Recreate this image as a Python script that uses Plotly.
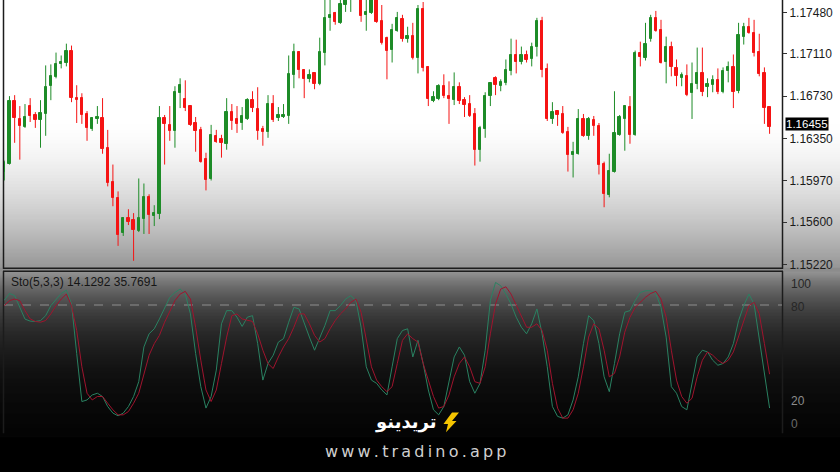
import math
import plotly.graph_objects as go

W, H = 840, 472

# ---------------- data ----------------
opens = [
    1.16053, 1.16125, 1.16685, 1.16525, 1.16454, 1.16641, 1.16561, 1.16516, 1.16570, 1.16819,
    1.16899, 1.17015, 1.17032, 1.17139, 1.16712, 1.16712, 1.16570, 1.16436, 1.16525, 1.16534,
    1.16267, 1.15955, 1.15813, 1.15502, 1.15635, 1.15617, 1.15519, 1.15626, 1.15822, 1.15653,
    1.15671, 1.16534, 1.16472, 1.16418, 1.16756, 1.16703, 1.16641, 1.16489, 1.16427, 1.16169,
    1.15982, 1.16374, 1.16347, 1.16303, 1.16587, 1.16525, 1.16489, 1.16525, 1.16694, 1.16614,
    1.16436, 1.16409, 1.16659, 1.16534, 1.16543, 1.16552, 1.16917, 1.17130, 1.16961, 1.16881,
    1.16934, 1.16837, 1.17121, 1.17433, 1.17477, 1.17388, 1.17548, 1.17625, 1.17680, 1.17690,
    1.17460, 1.17477, 1.17620, 1.17406, 1.17255, 1.17148, 1.17317, 1.17424, 1.17246, 1.17273,
    1.17068, 1.17513, 1.16988, 1.16685, 1.16703, 1.16819, 1.16730, 1.16694, 1.16810, 1.16694,
    1.16659, 1.16570, 1.16249, 1.16436, 1.16730, 1.16890, 1.16819, 1.16845, 1.16952, 1.17095,
    1.17041, 1.17095, 1.17059, 1.17175, 1.17406, 1.16970, 1.16525, 1.16596, 1.16570, 1.16409,
    1.16205, 1.16213, 1.16525, 1.16374, 1.16516, 1.16463, 1.16125, 1.15840, 1.16053, 1.16383,
    1.16525, 1.16632, 1.16383, 1.17121, 1.17068, 1.17246, 1.17433, 1.17326, 1.17041, 1.17175,
    1.16979, 1.16890, 1.16908, 1.16756, 1.16837, 1.16934, 1.16810, 1.16828, 1.16872, 1.16765,
    1.16952, 1.16988, 1.16774, 1.17264, 1.17353, 1.17299, 1.17130, 1.16934, 1.16632,
]
highs = [
    1.16151, 1.16730, 1.16739, 1.16641, 1.16659, 1.16712, 1.16587, 1.16694, 1.17006, 1.17015,
    1.17121, 1.17095, 1.17201, 1.17184, 1.16828, 1.16756, 1.16596, 1.16540, 1.16641, 1.16712,
    1.16427, 1.16116, 1.15875, 1.15644, 1.15715, 1.15680, 1.15991, 1.15946, 1.15849, 1.15751,
    1.16641, 1.16561, 1.16641, 1.16819, 1.16890, 1.16872, 1.16650, 1.16543, 1.16454, 1.16222,
    1.16472, 1.16427, 1.16383, 1.16712, 1.16659, 1.16641, 1.16632, 1.16712, 1.16774, 1.16810,
    1.16463, 1.16739, 1.16739, 1.16632, 1.16659, 1.17095, 1.17201, 1.17135, 1.16970, 1.16970,
    1.16943, 1.17255, 1.17605, 1.17600, 1.17486, 1.17610, 1.17650, 1.17720, 1.17760, 1.17720,
    1.17600, 1.17640, 1.17650, 1.17548, 1.17264, 1.17379, 1.17486, 1.17460, 1.17353, 1.17388,
    1.17548, 1.17575, 1.16997, 1.16774, 1.16837, 1.16926, 1.16863, 1.16943, 1.16854, 1.16721,
    1.16739, 1.16623, 1.16463, 1.16765, 1.16854, 1.16908, 1.16881, 1.17059, 1.17246, 1.17237,
    1.17175, 1.17139, 1.17210, 1.17433, 1.17442, 1.17023, 1.16676, 1.16605, 1.16641, 1.16454,
    1.16320, 1.16614, 1.16570, 1.16543, 1.16552, 1.16489, 1.16142, 1.16213, 1.16774, 1.16561,
    1.16650, 1.16730, 1.17139, 1.17219, 1.17388, 1.17460, 1.17495, 1.17415, 1.17264, 1.17219,
    1.17059, 1.16943, 1.17015, 1.17032, 1.17166, 1.17166, 1.16890, 1.16917, 1.16979, 1.16988,
    1.17041, 1.17104, 1.17388, 1.17388, 1.17433, 1.17415, 1.17290, 1.16988, 1.16641,
]
lows = [
    1.15973, 1.16116, 1.16311, 1.16160, 1.16445, 1.16498, 1.16445, 1.16267, 1.16374, 1.16694,
    1.16890, 1.16979, 1.16997, 1.16676, 1.16489, 1.16481, 1.16329, 1.16418, 1.16481, 1.16213,
    1.15920, 1.15742, 1.15386, 1.15475, 1.15573, 1.15252, 1.15510, 1.15493, 1.15493, 1.15564,
    1.15626, 1.16116, 1.16329, 1.16267, 1.16623, 1.16596, 1.16463, 1.16231, 1.16133, 1.15884,
    1.15973, 1.16311, 1.16178, 1.16249, 1.16427, 1.16400, 1.16427, 1.16516, 1.16587, 1.16338,
    1.16285, 1.16356, 1.16498, 1.16507, 1.16534, 1.16481, 1.16801, 1.16890, 1.16712, 1.16854,
    1.16792, 1.16828, 1.17006, 1.17317, 1.17371, 1.17379, 1.17486, 1.17486, 1.17640, 1.17397,
    1.17317, 1.17468, 1.17388, 1.17193, 1.16881, 1.17032, 1.17308, 1.17219, 1.17210, 1.17059,
    1.16934, 1.16952, 1.16641, 1.16676, 1.16694, 1.16712, 1.16481, 1.16650, 1.16659, 1.16543,
    1.16543, 1.16107, 1.16142, 1.16356, 1.16641, 1.16739, 1.16774, 1.16828, 1.16917, 1.16934,
    1.17015, 1.17032, 1.16997, 1.17086, 1.16899, 1.16507, 1.16481, 1.16463, 1.16392, 1.16053,
    1.16000, 1.16205, 1.16365, 1.16338, 1.16374, 1.16027, 1.15733, 1.15822, 1.16044, 1.16374,
    1.16240, 1.16303, 1.16374, 1.16997, 1.17050, 1.17219, 1.17308, 1.17023, 1.16845, 1.16908,
    1.16819, 1.16819, 1.16730, 1.16525, 1.16792, 1.16730, 1.16721, 1.16765, 1.16748, 1.16756,
    1.16854, 1.16623, 1.16756, 1.17193, 1.17290, 1.17086, 1.16908, 1.16481, 1.16392,
]
closes = [
    1.16133, 1.16685, 1.16534, 1.16463, 1.16543, 1.16552, 1.16516, 1.16578, 1.16810, 1.16908,
    1.17015, 1.17041, 1.17139, 1.16712, 1.16694, 1.16561, 1.16445, 1.16534, 1.16543, 1.16258,
    1.15946, 1.15813, 1.15484, 1.15635, 1.15599, 1.15528, 1.15635, 1.15822, 1.15662, 1.15680,
    1.16534, 1.16481, 1.16418, 1.16765, 1.16828, 1.16623, 1.16472, 1.16418, 1.16142, 1.15973,
    1.16383, 1.16320, 1.16311, 1.16587, 1.16507, 1.16481, 1.16552, 1.16694, 1.16623, 1.16418,
    1.16409, 1.16659, 1.16516, 1.16561, 1.16561, 1.16926, 1.17130, 1.16961, 1.16881, 1.16917,
    1.16837, 1.17130, 1.17433, 1.17460, 1.17397, 1.17557, 1.17620, 1.17680, 1.17700, 1.17451,
    1.17486, 1.17610, 1.17397, 1.17210, 1.17139, 1.17326, 1.17433, 1.17246, 1.17273, 1.17068,
    1.17513, 1.16979, 1.16703, 1.16721, 1.16819, 1.16730, 1.16703, 1.16810, 1.16685, 1.16650,
    1.16552, 1.16249, 1.16445, 1.16730, 1.16845, 1.16828, 1.16854, 1.16961, 1.17095, 1.17041,
    1.17095, 1.17050, 1.17175, 1.17406, 1.16961, 1.16525, 1.16587, 1.16561, 1.16400, 1.16205,
    1.16231, 1.16525, 1.16374, 1.16525, 1.16463, 1.16116, 1.15849, 1.16062, 1.16400, 1.16543,
    1.16641, 1.16383, 1.17121, 1.17077, 1.17201, 1.17433, 1.17317, 1.17032, 1.17175, 1.16988,
    1.16908, 1.16917, 1.16739, 1.16837, 1.16934, 1.16765, 1.16837, 1.16872, 1.16765, 1.16952,
    1.16988, 1.16765, 1.17282, 1.17353, 1.17299, 1.17121, 1.16926, 1.16623, 1.16455,
]
sto_k = [
    83, 87.4, 86, 78.5, 71, 69.7, 69.5, 70, 73.2, 79.6,
    83.8, 87.4, 89.5, 80.6, 49, 18.3, 19.3, 22.5, 23.6, 21.5,
    15.1, 10.9, 9.2, 10.9, 15.1, 21.5, 31, 53.2, 61.6, 64.8,
    71.1, 78.5, 84.9, 88, 90.2, 87, 74.3, 49, 27.8, 14.1,
    21.5, 38.4, 68, 76.4, 76.4, 72.2, 66.3, 72.2, 73.2, 55.3,
    32, 42.6, 47.9, 56.3, 58.5, 69, 78.5, 77.5, 68, 59.5,
    51.1, 58.5, 66.9, 76.4, 76.4, 79.6, 83.8, 86, 82.8, 65.8,
    40.5, 32, 29.9, 25.7, 22.5, 40.5, 58.5, 63.7, 64.8, 46.8,
    57.4, 42.6, 25.7, 13, 9.8, 15.1, 32, 46.8, 53.2, 47.9,
    31, 23.6, 29.9, 51.1, 82.8, 94.4, 92.3, 87, 80.6, 72.2,
    65.8, 61.6, 68, 77.5, 61.6, 40.5, 15.1, 8.8, 7.7, 9.8,
    19.3, 34.1, 55.3, 73.2, 70, 55.3, 34.1, 24.6, 42.6, 61.6,
    75.4, 76.4, 82.8, 88, 89.1, 89.1, 87.4, 78.5, 59.5, 27.8,
    23.6, 15.1, 13, 29.9, 46.8, 51.1, 50, 44.7, 41.5, 42.6,
    46.8, 55.3, 70, 79.6, 87, 80.6, 57.4, 34.1, 14.13,
]
sto_d = [
    79.6, 82.8, 83.8, 82.8, 76.4, 71.1, 69.5, 69, 70.1, 74.3,
    79.6, 83.8, 87, 79.6, 63.7, 40.5, 23.6, 19.3, 21.5, 21.5,
    17.2, 13, 9.8, 9.8, 11.9, 17.2, 23.6, 36.3, 47.9, 55.3,
    60.6, 69, 76.4, 82.8, 87, 88.7, 83.8, 65.8, 44.7, 25.7,
    18.3, 25.7, 42.6, 59.5, 73.2, 74.3, 71.1, 70.1, 69.5, 61.6,
    51.1, 42.6, 39.4, 46.8, 53.2, 58.5, 65.8, 74.3, 74.3, 68,
    60.6, 56.3, 58.5, 64.8, 70.1, 74.3, 77.5, 81.7, 83.8, 75.4,
    57.4, 40.5, 32, 27.8, 24.6, 27.8, 42.6, 57.4, 61.6, 58.5,
    56.3, 42.6, 32, 21.5, 14.1, 15.1, 22.5, 34.1, 42.6, 46.8,
    40.5, 31, 29.9, 40.5, 61.6, 80.6, 90.2, 91.6, 87, 79.6,
    72.2, 65.8, 65.8, 68, 63.7, 51.1, 29.9, 14.1, 7.7, 7.7,
    13, 23.6, 40.5, 59.5, 68, 64.8, 51.1, 34.1, 36.3, 46.8,
    62.7, 72.2, 78.5, 81.7, 84.9, 87.4, 88.7, 83.8, 72.2, 51.1,
    32, 21.5, 17.2, 20.4, 34.1, 44.7, 50, 47.9, 44.7, 42.6,
    44.7, 50, 59.5, 70.1, 79.6, 81.7, 74.3, 55.3, 35.77,
]
price_ticks = [1.17480, 1.17110, 1.16730, 1.16350, 1.15970, 1.15600, 1.15220]
last_price = 1.16455
sto_title = "Sto(5,3,3) 14.1292 35.7691"
sto_levels = [80, 20]
sto_scale_labels = ["100", "80", "20", "0"]
brand_fa = "تریدینو"
brand_url = "www.tradino.app"

# ---------------- helpers ----------------
def px(x):
    return x / W

def py(y):
    return 1 - y / H

GREEN = "#1e8c28"
RED = "#f51414"
FONT = "Liberation Sans"

n = len(opens)
idx = list(range(1, n + 1))

fig = go.Figure()

# wicks
for bull, col in ((True, GREEN), (False, RED)):
    wx, wy = [], []
    for i in range(n):
        if (closes[i] >= opens[i]) == bull:
            wx += [idx[i], idx[i], None]
            wy += [lows[i], highs[i], None]
    fig.add_trace(go.Scatter(x=wx, y=wy, mode="lines", line=dict(color=col, width=1),
                             hoverinfo="skip", xaxis="x", yaxis="y"))

# bodies
for bull, col in ((True, GREEN), (False, RED)):
    bx, bh, bb = [], [], []
    for i in range(n):
        if (closes[i] >= opens[i]) == bull:
            bx.append(idx[i])
            bh.append(abs(closes[i] - opens[i]))
            bb.append(min(opens[i], closes[i]))
    fig.add_trace(go.Bar(x=bx, y=bh, base=bb, width=0.45,
                         marker=dict(color=col, line=dict(color=col, width=1)),
                         xaxis="x", yaxis="y"))

# stochastic
fig.add_trace(go.Scatter(x=idx[:len(sto_k)], y=sto_k, mode="lines",
                         line=dict(color="#2a8262", width=1), xaxis="x2", yaxis="y2"))
fig.add_trace(go.Scatter(x=idx[:len(sto_d)], y=sto_d, mode="lines",
                         line=dict(color="#a0142e", width=1), xaxis="x2", yaxis="y2"))

# ---------------- background gradient ----------------
shapes = []

def band(y0, y1, g):
    c = f"rgb({g},{g},{g})"
    shapes.append(dict(type="rect", xref="paper", yref="paper", x0=0, x1=1,
                       y0=py(y1), y1=py(y0), fillcolor=c,
                       line=dict(width=0), layer="below"))

band(0, 121, 255)
for y in range(120, 270):
    t = (y + 0.5 - 120) / 150
    g = int(round(255 - 105 * t ** 1.6))
    band(y, y + 2, g)
band(270, 275, 140)
for y in range(274, 440):
    g = int(round(148 * math.exp(-(y + 0.5 - 274) / 48)))
    band(y, y + 2, g)

# borders
def vline(x, y0, y1, col="#1c1c1c", w=1.5):
    shapes.append(dict(type="line", xref="paper", yref="paper", x0=px(x), x1=px(x),
                       y0=py(y0), y1=py(y1), line=dict(color=col, width=w), layer="below"))

def hline(y, x0, x1, col="#1c1c1c", w=1.5):
    shapes.append(dict(type="line", xref="paper", yref="paper", x0=px(x0), x1=px(x1),
                       y0=py(y), y1=py(y), line=dict(color=col, width=w), layer="below"))

vline(3.5, 0, 271)
vline(782.5, 0, 271)
hline(270.5, 3, 783)
hline(273.5, 3, 783)
vline(3.5, 273.5, 437)
vline(782.5, 273.5, 437)

# stochastic levels
for lv, col in zip(sto_levels, ("#8e8e8e", "#0c0c0c")):
    shapes.append(dict(type="line", xref="paper", yref="y2", x0=px(4), x1=px(782),
                       y0=lv, y1=lv, line=dict(color=col, width=1, dash="dash"), layer="below"))

# logo bolt
pts = [(452, 416), (459, 416), (452, 424.5), (456.5, 424.5), (446, 436), (448, 427.5), (443.5, 427.5)]
path = "M " + " L ".join(f"{px(a):.5f},{py(b):.5f}" for a, b in pts) + " Z"
shapes.append(dict(type="path", xref="paper", yref="paper", path=path,
                   fillcolor="#f5c400", line=dict(width=0), layer="above"))

# ---------------- annotations ----------------
ann = []
ann.append(dict(xref="paper", yref="y", x=px(785), y=last_price, xanchor="left", yanchor="middle",
                yshift=3, text=f"{last_price:.5f}", showarrow=False, bgcolor="#000000", borderpad=0,
                font=dict(family=FONT, size=11.5, color="#ffffff")))
ann.append(dict(xref="paper", yref="paper", x=px(9), y=py(284), xanchor="left", yanchor="middle",
                text=sto_title, showarrow=False, font=dict(family=FONT, size=12, color="#151515")))
for lab, ypix, col in zip(sto_scale_labels, (286, 310, 404, 428), ("#262626", "#262626", "#8c8c8c", "#6a6a6a")):
    ann.append(dict(xref="paper", yref="paper", x=px(789), y=py(ypix), xanchor="left", yanchor="middle",
                    text=lab, showarrow=False, font=dict(family=FONT, size=12, color=col)))
ann.append(dict(xref="paper", yref="paper", x=px(406), y=py(426), xanchor="center", yanchor="middle",
                text=f"<b>{brand_fa}</b>", showarrow=False,
                font=dict(family="DejaVu Sans", size=18, color="#ffffff")))
ann.append(dict(xref="paper", yref="paper", x=px(415), y=py(455), xanchor="center", yanchor="middle",
                text="\u2009".join(brand_url), showarrow=False,
                font=dict(family="DejaVu Sans", size=16, color="#cfcfcf")))

fig.update_layout(
    width=W, height=H, margin=dict(l=0, r=0, t=0, b=0),
    paper_bgcolor="#000000", plot_bgcolor="rgba(0,0,0,0)",
    showlegend=False, barmode="overlay", bargap=0,
    shapes=shapes, annotations=ann,
    xaxis=dict(domain=[px(4), px(782)], range=[0.94, 151.4], visible=False, fixedrange=True),
    yaxis=dict(domain=[py(270), 1], range=[1.15190, 1.17593], side="right",
               tickmode="array", tickvals=price_ticks,
               ticktext=[f"{v:.5f}" for v in price_ticks],
               ticks="outside", ticklen=4, tickcolor="#333333",
               tickfont=dict(family=FONT, size=12, color="#1a1a1a"),
               showgrid=False, zeroline=False, showline=False, fixedrange=True),
    xaxis2=dict(domain=[px(4), px(782)], range=[0.94, 151.4], visible=False, anchor="y2",
                fixedrange=True),
    yaxis2=dict(domain=[py(437), py(274)], range=[-2.0, 101.3], anchor="x2",
                showticklabels=False, showgrid=False, zeroline=False, fixedrange=True),
)

fig.write_html("out.html", config={"displayModeBar": False},
               post_script="document.body.style.margin='0px';document.body.style.overflow='hidden';")
